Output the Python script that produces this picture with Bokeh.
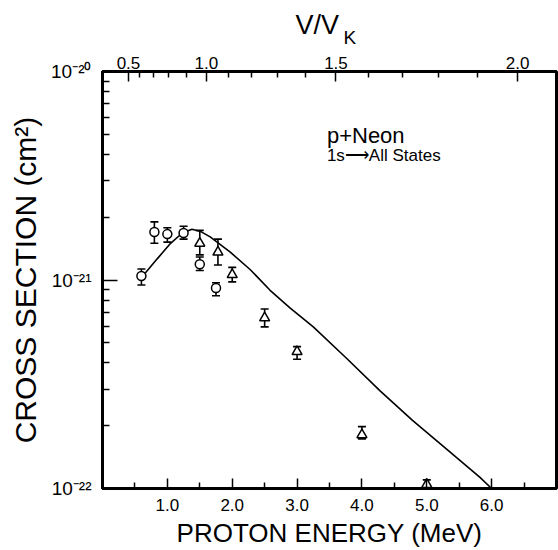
from bokeh.plotting import figure
from bokeh.models import (LinearAxis, FixedTicker, Whisker, TeeHead, ColumnDataSource,
                          Label, PrintfTickFormatter, Range1d, Title)
from bokeh.embed import file_html
from bokeh.resources import INLINE

# ---------------- data ----------------
circ_E = [0.6, 0.8, 1.0, 1.25, 1.5, 1.75]
circ_s = [1.045e-21, 1.70e-21, 1.66e-21, 1.68e-21, 1.19e-21, 0.916e-21]
circ_lo = [0.946e-21, 1.50e-21, 1.52e-21, 1.57e-21, 1.11e-21, 0.84e-21]
circ_hi = [1.13e-21, 1.90e-21, 1.78e-21, 1.81e-21, 1.29e-21, 0.97e-21]

tri_E = [1.5, 1.78, 2.0, 2.5, 3.0, 4.0, 5.0]
tri_s = [1.50e-21, 1.36e-21, 1.06e-21, 0.658e-21, 4.53e-22, 1.81e-22, 1.045e-22]
tri_lo = [1.32e-21, 1.18e-21, 0.98e-21, 0.596e-21, 4.17e-22, 1.73e-22, 1.0e-22]
tri_hi = [1.73e-21, 1.57e-21, 1.15e-21, 0.726e-21, 4.79e-22, 1.98e-22, 1.10e-22]

curve_E = [0.66, 0.85, 1.05, 1.23, 1.38, 1.51, 1.66, 1.97, 2.28, 2.58, 2.89,
           3.25, 3.77, 4.28, 4.78, 5.31, 5.82, 6.0]
curve_s = [1.08e-21, 1.27e-21, 1.50e-21, 1.68e-21, 1.75e-21, 1.71e-21, 1.61e-21,
           1.36e-21, 1.12e-21, 0.895e-21, 0.735e-21, 5.96e-22, 4.19e-22, 2.94e-22,
           2.12e-22, 1.54e-22, 1.13e-22, 1.0e-22]

x_ticks = [1, 2, 3, 4, 5, 6]
x_minor = [0.5, 1.5, 2.5, 3.5, 4.5, 5.5, 6.5]
y_ticks = [1e-22, 1e-21, 1e-20]
y_minor = [m * 10.0 ** e for e in (-22, -21) for m in range(2, 10)]
y_labels = ["10⁻²²", "10⁻²¹", "10⁻²⁰"]

# top axis: V/V_K, with E = 1.6 MeV * (V/V_K)^2
vk_energy = 1.6
v_major = [0.5, 1.0, 1.5, 2.0]
v_minor = [0.6, 0.7, 0.8, 0.9, 1.1, 1.2, 1.3, 1.4, 1.6, 1.7, 1.8, 1.9]

FONT = "Liberation Sans"

p = figure(width=558, height=550, x_range=Range1d(0.0, 7.0),
           y_range=Range1d(1e-22, 1e-20), y_axis_type="log",
           output_backend="svg", toolbar_location=None,
           min_border_left=102, min_border_right=2, min_border_top=71,
           min_border_bottom=61)
p.xgrid.visible = False
p.ygrid.visible = False
p.outline_line_color = "black"
p.outline_line_width = 3
p.outline_line_alpha = 1.0
p.background_fill_color = "white"
p.border_fill_color = "white"


def set_ticks(ax, major_len=10, minor_len=6):
    ax.major_tick_in = major_len
    ax.major_tick_out = 0
    ax.minor_tick_in = minor_len
    ax.minor_tick_out = 0
    ax.major_tick_line_color = "black"
    ax.minor_tick_line_color = "black"
    ax.major_tick_line_width = 1.5
    ax.minor_tick_line_width = 1.5
    ax.axis_line_width = 3
    ax.axis_line_color = "black"


# bottom axis
xa = p.xaxis[0]
xa.ticker = FixedTicker(ticks=x_ticks, minor_ticks=x_minor)
xa.formatter = PrintfTickFormatter(format="%.1f")
set_ticks(xa, 10, 6)
xa.major_label_text_font = FONT
xa.major_label_text_font_size = "17px"
xa.major_label_text_color = "black"
xa.major_label_standoff = 10
xa.axis_label = "PROTON ENERGY (MeV)"
xa.axis_label_text_font = FONT
xa.axis_label_text_font_size = "26px"
xa.axis_label_text_font_style = "normal"
xa.axis_label_text_color = "black"
xa.axis_label_standoff = 4

# left axis
ya = p.yaxis[0]
ya.ticker = FixedTicker(ticks=y_ticks, minor_ticks=y_minor)
ya.major_label_overrides = {t: l for t, l in zip(y_ticks, y_labels)}
set_ticks(ya, 15, 7)
ya.major_label_text_font = FONT
ya.major_label_text_font_size = "19px"
ya.major_label_text_color = "black"
ya.major_label_standoff = 11
ya.axis_label = "CROSS SECTION (cm²)"
ya.axis_label_text_font = FONT
ya.axis_label_text_font_size = "30px"
ya.axis_label_text_font_style = "normal"
ya.axis_label_text_color = "black"
ya.axis_label_standoff = 6

# top axis (V/V_K)
top_major = [vk_energy * v * v for v in v_major]
top_minor = [vk_energy * v * v for v in v_minor]
ta = LinearAxis(ticker=FixedTicker(ticks=top_major, minor_ticks=top_minor),
                major_label_overrides={t: "%.1f" % v for t, v in zip(top_major, v_major)})
set_ticks(ta, 10, 6)
ta.major_label_text_font = FONT
ta.major_label_text_font_size = "17px"
ta.major_label_text_color = "black"
ta.major_label_standoff = 3

# top titles: "V/V" with subscript "K"
t_k = Title(text="K", align="left", offset=241, standoff=12, text_font=FONT,
            text_font_size="19px", text_font_style="normal", text_color="black")
t_v = Title(text="V/V", align="left", offset=193, standoff=-43, text_font=FONT,
            text_font_size="27px", text_font_style="normal", text_color="black")
p.above = [ta, t_k, t_v]

# theory curve
p.line(curve_E, curve_s, line_color="black", line_width=1.6)

# error bars
csrc = ColumnDataSource(dict(x=circ_E, y=circ_s, lo=circ_lo, hi=circ_hi))
tsrc = ColumnDataSource(dict(x=tri_E, y=tri_s, lo=tri_lo, hi=tri_hi))
for src in (csrc, tsrc):
    w = Whisker(source=src, base="x", lower="lo", upper="hi", dimension="height",
                line_color="black", line_width=1.6,
                upper_head=TeeHead(size=8, line_width=1.6, line_color="black"),
                lower_head=TeeHead(size=8, line_width=1.6, line_color="black"))
    p.add_layout(w)

p.scatter("x", "y", source=csrc, marker="circle", size=9, fill_color="white",
          line_color="black", line_width=1.5)
p.scatter("x", "y", source=tsrc, marker="triangle", size=10, fill_color="white",
          line_color="black", line_width=1.5)

# texts
p.add_layout(Label(x=3.46, y=10 ** -20.306, text="p+Neon", text_font=FONT,
                   text_font_size="22px", text_color="black", text_baseline="alphabetic"))
p.add_layout(Label(x=3.46, y=10 ** -20.402, text="1s⟶All States", text_font=FONT,
                   text_font_size="17px", text_color="black", text_baseline="alphabetic"))

open("out.html", "w").write(file_html(p, INLINE))
